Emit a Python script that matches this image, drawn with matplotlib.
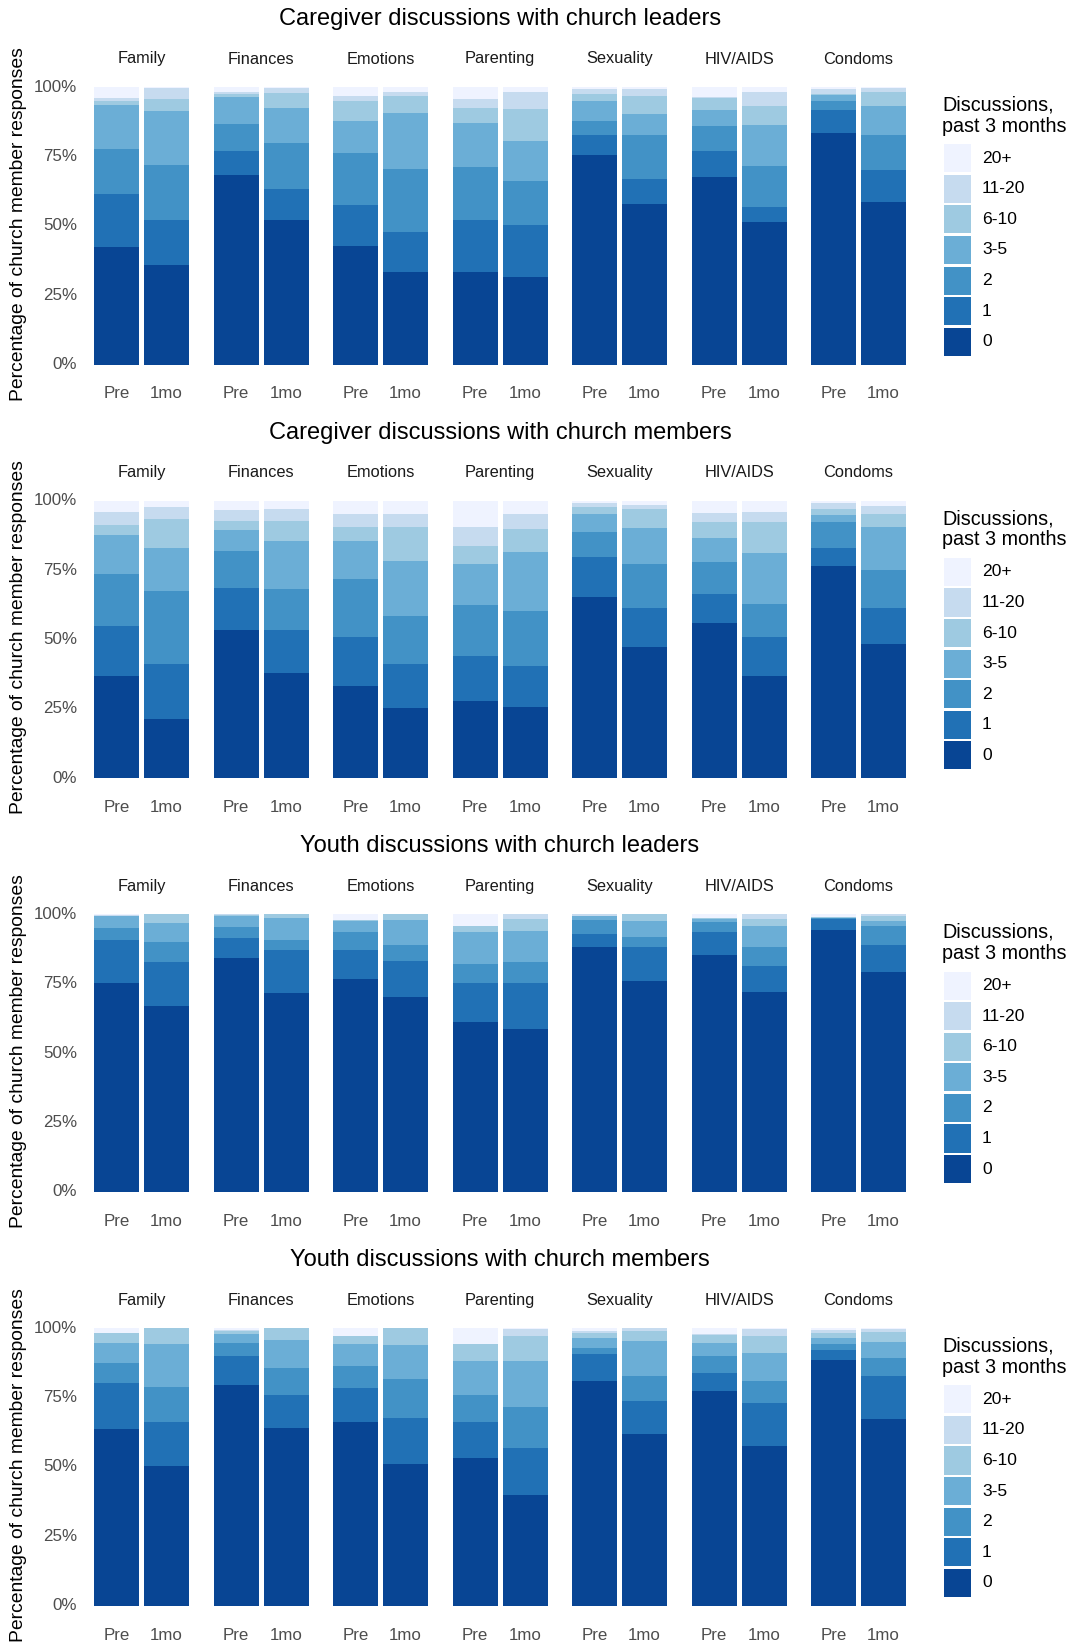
import matplotlib
matplotlib.use("Agg")
import matplotlib.pyplot as plt
import numpy as np

plt.rcParams['font.family'] = ['Liberation Sans', 'DejaVu Sans']

topics = ["Family", "Finances", "Emotions", "Parenting", "Sexuality", "HIV/AIDS", "Condoms"]
times = ["Pre", "1mo"]
levels = ["0", "1", "2", "3-5", "6-10", "11-20", "20+"]
colors = ["#084594", "#2171B5", "#4292C6", "#6BAED6", "#9ECAE1", "#C6DBEF", "#EFF3FF"]
y_ticks = [0, 25, 50, 75, 100]

panel_titles = [
    "Caregiver discussions with church leaders",
    "Caregiver discussions with church members",
    "Youth discussions with church leaders",
    "Youth discussions with church members",
]

# cumulative top (%) of levels 0, 1, 2, 3-5, 6-10, 11-20 ; 20+ fills to 100
# rows: Family Pre, Family 1mo, Finances Pre, Finances 1mo, ...
cg_leaders = [
    [42.2, 61.5, 77.8, 93.6, 95.0, 96.0],
    [35.9, 51.9, 71.9, 91.2, 95.7, 99.5],
    [68.2, 76.8, 86.6, 96.3, 97.5, 98.3],
    [51.9, 63.3, 79.7, 92.6, 97.8, 99.6],
    [42.6, 57.3, 76.2, 87.8, 94.8, 96.7],
    [33.5, 47.9, 70.6, 90.8, 96.9, 98.1],
    [33.5, 51.9, 71.0, 87.1, 92.3, 95.7],
    [31.7, 50.4, 66.3, 80.6, 92.0, 98.1],
    [75.4, 82.8, 87.8, 94.8, 97.5, 99.3],
    [58.0, 66.7, 82.8, 90.2, 96.6, 99.3],
    [67.7, 77.0, 86.0, 91.8, 96.0, 96.3],
    [51.3, 56.7, 71.5, 86.4, 93.0, 98.1],
    [83.6, 91.7, 95.1, 97.1, 97.5, 99.3],
    [58.5, 70.1, 82.8, 93.2, 98.3, 99.8],
]
cg_members = [
    [37.0, 54.7, 73.5, 87.6, 91.3, 96.1],
    [21.3, 41.2, 67.4, 83.0, 93.3, 97.6],
    [53.3, 68.6, 81.8, 89.5, 92.7, 96.7],
    [37.9, 53.3, 68.2, 85.6, 92.7, 97.1],
    [33.1, 50.9, 71.9, 85.6, 90.4, 95.3],
    [25.2, 41.2, 58.5, 78.3, 90.4, 95.3],
    [28.0, 44.0, 62.4, 77.3, 83.8, 90.4],
    [25.8, 40.4, 60.4, 81.6, 89.8, 95.3],
    [65.2, 79.8, 88.8, 95.3, 97.9, 99.2],
    [47.4, 61.3, 77.3, 90.3, 97.1, 98.5],
    [56.1, 66.2, 77.9, 86.7, 92.5, 95.5],
    [36.7, 50.9, 62.8, 81.3, 92.2, 96.1],
    [76.4, 83.0, 92.5, 94.9, 97.1, 99.2],
    [48.5, 61.3, 74.9, 90.4, 95.2, 98.2],
]
youth_leaders = [
    [75.2, 90.9, 95.0, 99.4, 99.6, 99.8],
    [67.0, 82.7, 90.0, 96.9, 100, 100],
    [84.2, 91.5, 95.4, 99.6, 99.8, 100],
    [71.5, 87.0, 90.6, 98.8, 100, 100],
    [76.7, 87.3, 93.6, 97.8, 98.0, 98.0],
    [70.3, 83.3, 88.8, 98.1, 100, 100],
    [61.2, 75.1, 82.1, 93.6, 95.8, 96.0],
    [58.6, 75.1, 82.7, 94.0, 98.4, 100],
    [88.2, 93.0, 98.1, 99.3, 99.6, 100],
    [76.1, 88.2, 91.8, 97.8, 100, 100],
    [85.4, 93.6, 97.2, 98.4, 98.6, 98.8],
    [71.9, 81.5, 88.4, 96.0, 98.4, 100],
    [94.4, 98.4, 98.6, 98.8, 99.0, 99.2],
    [79.1, 89.1, 95.7, 97.8, 99.6, 100],
]
youth_members = [
    [63.6, 80.3, 87.5, 94.8, 98.1, 98.4],
    [50.4, 66.0, 78.8, 94.2, 100, 100],
    [79.4, 90.0, 94.8, 97.8, 99.0, 99.3],
    [63.9, 76.0, 85.7, 95.6, 100, 100],
    [66.0, 78.5, 86.3, 94.2, 97.0, 97.2],
    [51.2, 67.6, 81.7, 93.9, 100, 100],
    [53.3, 66.3, 76.0, 88.1, 94.2, 94.4],
    [39.9, 56.7, 71.5, 88.1, 97.0, 99.5],
    [81.1, 90.6, 93.0, 96.6, 98.2, 99.0],
    [61.9, 73.6, 82.7, 95.4, 99.0, 100],
    [77.2, 83.9, 90.0, 94.8, 97.5, 97.7],
    [57.6, 73.0, 80.9, 91.2, 97.2, 99.6],
    [88.5, 92.0, 94.2, 96.6, 98.4, 99.4],
    [67.2, 82.7, 89.3, 95.0, 98.7, 99.6],
]
panels = [cg_leaders, cg_members, youth_leaders, youth_members]

W, H = 1072, 1643
fig = plt.figure(figsize=(W / 100, H / 100), dpi=100)


def fx(px):
    return px / W


def fy(py):
    return 1 - py / H


facet_left = 86.5
facet_step = 119.5
facet_w = 110
panel_step = 413.7

for k, data in enumerate(panels):
    oy = k * panel_step
    top, bottom = 87 + oy, 364.5 + oy
    fig.text(fx(500), fy(19 + oy), panel_titles[k], ha="center", va="center", fontsize=17, color="black")
    fig.text(fx(19), fy((top + bottom) / 2 - 2), "Percentage of church member responses", rotation=90,
             ha="center", va="center", fontsize=13.9, color="black")
    for lab in y_ticks:
        yy = bottom - (bottom - top) * lab / 100
        fig.text(fx(77), fy(yy), f"{lab}%", ha="right", va="center", fontsize=12.2, color="#4D4D4D")

    for i, topic in enumerate(topics):
        left = facet_left + i * facet_step
        ax = fig.add_axes([fx(left), fy(bottom), fx(facet_w), (bottom - top) / H])
        cum = np.array(data[2 * i:2 * i + 2], dtype=float)
        cum = np.hstack([np.zeros((2, 1)), cum, np.full((2, 1), 100.0)])
        for t in range(2):
            for lv in range(len(levels)):
                h = cum[t, lv + 1] - cum[t, lv]
                if h > 0:
                    ax.bar(t + 1, h, bottom=cum[t, lv], width=0.9, color=colors[lv], linewidth=0)
        ax.set_xlim(0.4, 2.6)
        ax.set_ylim(0, 100)
        ax.axis("off")
        fig.text(fx(left + facet_w / 2), fy(59 + oy), topic, ha="center", va="center", fontsize=11.8, color="#1A1A1A")
        for t, tl in enumerate(times):
            xx = left + (t + 1 - 0.4) / 2.2 * facet_w
            fig.text(fx(xx), fy(394 + oy), tl, ha="center", va="center", fontsize=12.2, color="#4D4D4D")

    # legend
    fig.text(fx(942), fy(105 + oy), "Discussions,", ha="left", va="center", fontsize=14.2, color="black")
    fig.text(fx(942), fy(126 + oy), "past 3 months", ha="left", va="center", fontsize=14.2, color="black")
    lax = fig.add_axes([fx(944), fy(357 + oy), fx(27), (357 - 143) / H])
    for n, lv in enumerate(levels):
        lax.bar(0, 0.92, bottom=n + 0.04, width=1, color=colors[n], linewidth=0)
        fig.text(fx(982), fy(357 + oy - (n + 0.5) * (357 - 143) / 7), lv, ha="left", va="center",
                 fontsize=12.6, color="black")
    lax.set_xlim(-0.5, 0.5)
    lax.set_ylim(0, 7)
    lax.axis("off")

fig.savefig("out.png", dpi=100, facecolor="white")
